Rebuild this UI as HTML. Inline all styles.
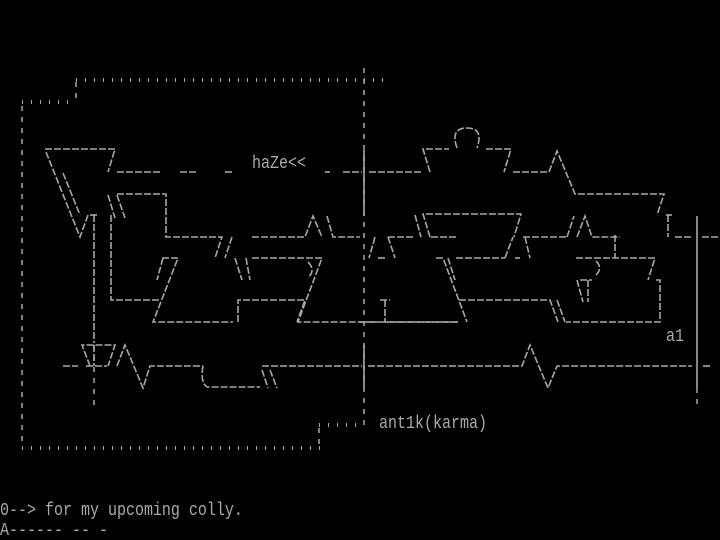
<!DOCTYPE html>
<html><head><meta charset="utf-8"><style>
html,body{margin:0;padding:0;background:#000;}
svg{display:block}
text{font-family:"Liberation Mono","DejaVu Sans Mono",monospace;fill:#aaa;font-size:15px;}
</style></head><body>
<svg width="720" height="540" viewBox="0 0 720 540" xmlns="http://www.w3.org/2000/svg">
<g stroke="#a8a8a8" fill="none">
<g stroke-width="4" stroke-dasharray="1 8">
<line x1="76" y1="80" x2="384" y2="80"/>
<line x1="22" y1="102" x2="76" y2="102"/>
<line x1="22" y1="448" x2="321" y2="448"/>
<line x1="319" y1="425" x2="364" y2="425"/>
</g>
<g stroke-width="1.5" stroke-dasharray="5 6">
<line x1="76" y1="82" x2="76" y2="102"/>
<line x1="22" y1="106" x2="22" y2="446"/>
<line x1="319" y1="428" x2="319" y2="446"/>
<line x1="364" y1="68" x2="364" y2="425"/>
<line x1="94" y1="345" x2="94" y2="408"/>
<line x1="697" y1="388" x2="697" y2="408"/>
</g>
<g stroke-width="1.6">
<line x1="364" y1="150" x2="364" y2="216"/>
<line x1="364" y1="345" x2="364" y2="388"/>
<line x1="697" y1="216" x2="697" y2="388"/>
</g>
<g stroke-width="1.6" stroke-dasharray="7 2">
<polyline points="45,149 115,149 108,172"/>
<line x1="117" y1="172" x2="160" y2="172"/>
<line x1="180" y1="172" x2="196" y2="172"/>
<line x1="225" y1="172" x2="233" y2="172"/>
<line x1="325" y1="172" x2="330" y2="172"/>
<line x1="343" y1="172" x2="362" y2="172"/>
<polyline points="46,152 80,237 88,215"/>
<line x1="63" y1="173" x2="80" y2="215"/>
<line x1="90" y1="215" x2="98" y2="215"/>
<line x1="94" y1="215" x2="94" y2="343"/>
<polyline points="111,215 111,300 160,300"/>
<line x1="108" y1="195" x2="115" y2="218"/>
<line x1="117" y1="195" x2="125" y2="218"/>
<polyline points="117,194 166,194 166,237 222,237 215,258"/>
<line x1="232" y1="237" x2="225" y2="258"/>
<polyline points="252,237 305,237 313,216 322,237"/>
<polyline points="327,216 333,237 360,237"/>
<line x1="375" y1="237" x2="369" y2="258"/>
<line x1="378" y1="258" x2="385" y2="258"/>
<polyline points="388,237 395,258"/>
<line x1="388" y1="237" x2="415" y2="237"/>
<line x1="415" y1="215" x2="421" y2="237"/>
<polyline points="430,237 423,214 521,214 514,237"/>
<line x1="431" y1="237" x2="458" y2="237"/>
<line x1="163" y1="258" x2="157" y2="280"/>
<polyline points="162,258 178,258 153,322 233,322"/>
<polyline points="238,322 238,300 305,300 297,322"/>
<line x1="235" y1="258" x2="242" y2="280"/>
<line x1="246" y1="258" x2="250" y2="280"/>
<polyline points="252,258 322,258 298,322 378,322"/>
<path d="M308,262 Q316,270 308,278"/>
<polyline points="385,300 385,322 458,322"/>
<line x1="380" y1="300" x2="390" y2="300"/>
<polyline points="436,258 443,258 467,322"/>
<line x1="448" y1="258" x2="455" y2="280"/>
<line x1="456" y1="258" x2="505" y2="258"/>
<line x1="515" y1="258" x2="520" y2="258"/>
<polyline points="505,258 513,237"/>
<polyline points="525,237 530,258"/>
<line x1="523" y1="237" x2="567" y2="237"/>
<line x1="567" y1="237" x2="574" y2="216"/>
<polyline points="577,237 585,216 592,237 620,237"/>
<line x1="615" y1="235" x2="615" y2="258"/>
<polyline points="576,258 655,258 648,280"/>
<path d="M596,261 Q603,268 596,275"/>
<line x1="577" y1="280" x2="583" y2="302"/>
<line x1="580" y1="280" x2="592" y2="280"/>
<line x1="588" y1="280" x2="588" y2="302"/>
<polyline points="656,280 660,280 660,322 566,322"/>
<polyline points="459,300 550,300 558,322"/>
<line x1="557" y1="300" x2="565" y2="322"/>
<line x1="360" y1="322" x2="458" y2="322"/>
<line x1="369" y1="172" x2="421" y2="172"/>
<polyline points="430,172 423,149 449,149"/>
<path d="M457,148 Q450,128 467,128 Q484,128 477,148"/>
<polyline points="486,149 511,149 504,172"/>
<polyline points="513,172 549,172 557,151 575,194 664,194 657,215"/>
<line x1="666" y1="215" x2="672" y2="215"/>
<line x1="668" y1="215" x2="668" y2="237"/>
<line x1="675" y1="237" x2="692" y2="237"/>
<line x1="702" y1="237" x2="718" y2="237"/>
<line x1="63" y1="366" x2="78" y2="366"/>
<polyline points="90,366 82,345 115,345 108,366"/>
<line x1="86" y1="366" x2="107" y2="366"/>
<line x1="94" y1="345" x2="94" y2="366"/>
<polyline points="117,366 125,345 143,388 150,366 203,366"/>
<path d="M203,366 Q200,382 207,387 L260,387"/>
<line x1="262" y1="366" x2="362" y2="366"/>
<line x1="262" y1="370" x2="268" y2="388"/>
<line x1="270" y1="370" x2="277" y2="388"/>
<polyline points="368,366 522,366 530,345 548,388 557,366 692,366"/>
<line x1="703" y1="366" x2="712" y2="366"/>
</g>
</g>
<text transform="translate(252,168) scale(1,1.25)">haZe&lt;&lt;</text>
<text transform="translate(666,341) scale(1,1.25)">a1</text>
<text transform="translate(379,428) scale(1,1.25)">ant1k(karma)</text>
<text transform="translate(0,515) scale(1,1.25)">0--&gt; for my upcoming colly.</text>
<text transform="translate(0,535) scale(1,1.25)">A------ -- -</text>
</svg>
</body></html>
